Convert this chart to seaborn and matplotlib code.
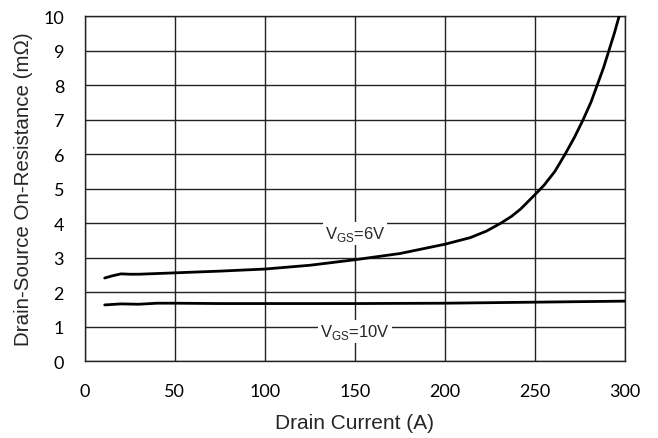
import matplotlib
matplotlib.use("Agg")
import matplotlib.pyplot as plt
import seaborn as sns
import pandas as pd

# ── 資料 ──────────────────────────────────────────────────────────────────────
current_6v = [11, 15, 20, 25, 30, 40, 50, 75, 100, 125, 150, 175, 200, 214,
              223, 231, 237, 242, 246, 250, 255, 261, 266.7, 272, 276.7, 281,
              284.5, 288, 291, 294, 296.7]
rds_6v     = [2.41, 2.47, 2.53, 2.52, 2.52, 2.54, 2.56, 2.61, 2.67, 2.78, 2.94,
              3.12, 3.39, 3.58, 3.77, 4.00, 4.20, 4.41, 4.62, 4.83, 5.10, 5.50,
              6.00, 6.50, 7.00, 7.50, 8.00, 8.50, 9.00, 9.50, 10.0]

current_10v = [11, 20, 30, 40, 50, 75, 100, 150, 200, 250, 300]
rds_10v     = [1.63, 1.66, 1.65, 1.68, 1.68, 1.67, 1.67, 1.67, 1.68, 1.71, 1.74]

x_ticks = [0, 50, 100, 150, 200, 250, 300]
y_ticks = list(range(0, 11))

df = pd.concat([
    pd.DataFrame({"I": current_6v, "R": rds_6v, "vgs": "6V"}),
    pd.DataFrame({"I": current_10v, "R": rds_10v, "vgs": "10V"}),
])

sns.set_theme(style="white")
plt.rcParams["font.family"] = ["Liberation Sans", "DejaVu Sans"]

fig = plt.figure(figsize=(6.58, 4.39), dpi=100)
ax = fig.add_axes([0.129, 0.175, 0.821, 0.786])

sns.lineplot(data=df, x="I", y="R", hue="vgs", palette=["black", "black"],
             linewidth=2, legend=False, ax=ax, sort=False, estimator=None, zorder=3)

ax.set_xlim(0, 300)
ax.set_ylim(0, 10)
ax.set_xticks(x_ticks)
ax.set_yticks(y_ticks)
ax.grid(True, color="#222222", linewidth=1)
ax.set_axisbelow(True)
for s in ax.spines.values():
    s.set_color("#222222")
    s.set_linewidth(1)
ax.tick_params(axis="x", length=0, labelsize=13, pad=16, colors="black")
ax.tick_params(axis="y", length=0, labelsize=13, pad=15, colors="black")
for lbl in ax.get_xticklabels() + ax.get_yticklabels():
    lbl.set_family(["Lato", "DejaVu Sans"])

ax.set_xlabel("Drain Current (A)", fontsize=15, labelpad=9.5)
ax.set_ylabel("Drain-Source On-Resistance (mΩ)", fontsize=14.8)
ax.yaxis.set_label_coords(-0.096, 0.5)

box = dict(facecolor="white", edgecolor="none", pad=1.5)
ax.text(150, 3.7, r"V$_{\mathregular{GS}}$=6V", ha="center", va="center",
        fontsize=12, bbox=box, zorder=4)
ax.text(150, 0.87, r"V$_{\mathregular{GS}}$=10V", ha="center", va="center",
        fontsize=12, bbox=box, zorder=4)

fig.savefig("out.png", dpi=100)
